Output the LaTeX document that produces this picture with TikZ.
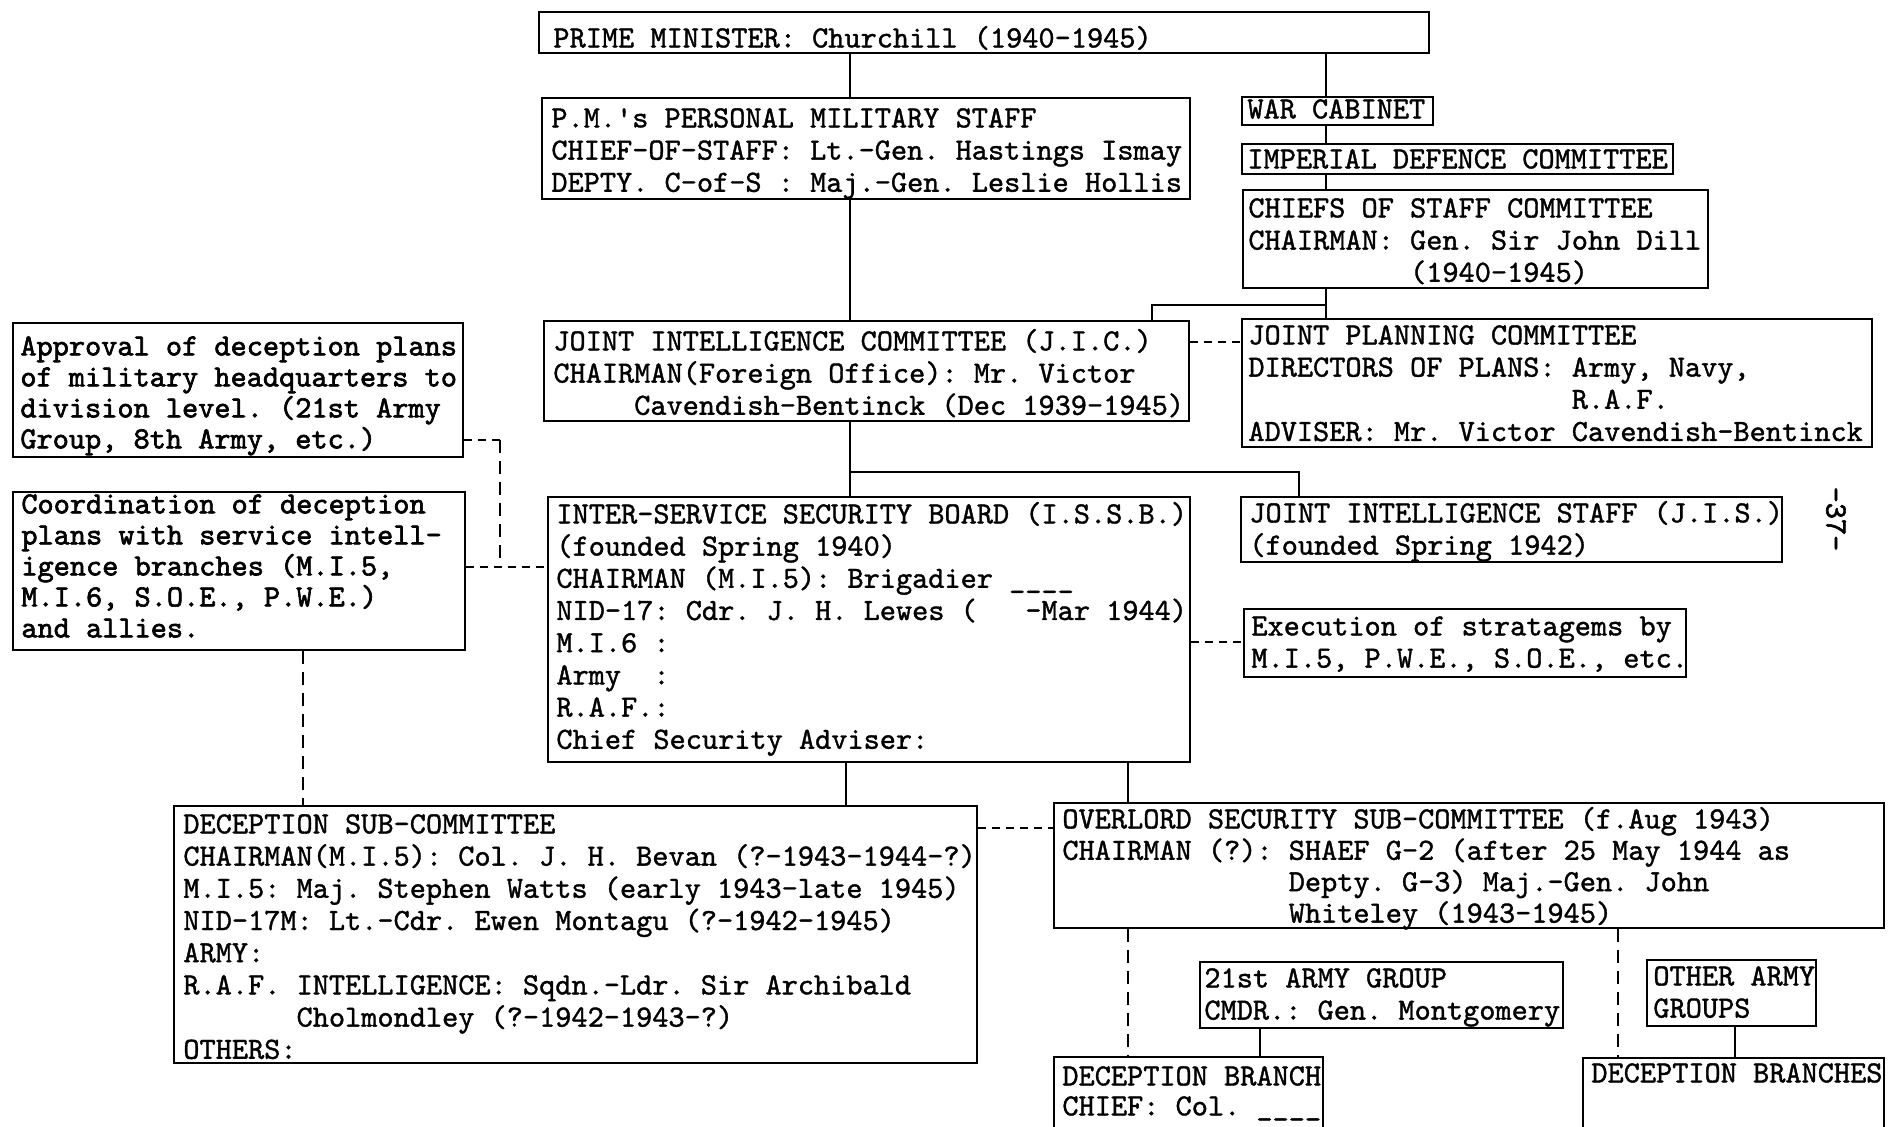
\documentclass[tikz,border=0pt]{standalone}
\usepackage{fontspec}
\usetikzlibrary{fit}
\setmonofont{lmmono10-regular.otf}[FakeBold=1.2]
\newfontfamily\pica{lmmono10-regular.otf}[FakeBold=2]
\newcommand\Tup{\rule{0pt}{13pt}}
\frenchspacing
\begin{document}
\begin{tikzpicture}[x=0.5pt,y=-0.5pt,
 box/.style={draw,line width=1.3pt,inner sep=0pt},
 ln/.style={line width=1.3pt},
 hd/.style={line width=1.3pt,dash pattern=on 4pt off 3pt},
 vd/.style={line width=1.3pt,dash pattern=on 6.5pt off 4pt},
 tx/.style={anchor=north west,inner sep=0pt,align=left,yshift=13pt,font=\ttfamily\fontsize{15.4pt}{16.1pt}\selectfont},
 px/.style={tx,font=\pica\fontsize{15.4pt}{15.5pt}\selectfont}]
\fill[white] (0,0) rectangle (1892,1127);
\useasboundingbox (0,0) rectangle (1892,1127);
\clip (0,0) rectangle (1892,1127);
% boxes
\node[box, fit={(539,12) (1429,53)}] (pm) {};
\node[box, fit={(542,98) (1190,199)}] (pms) {};
\node[box, fit={(1242,97) (1433,125)}] (war) {};
\node[box, fit={(1242,144) (1673,174)}] (idc) {};
\node[box, fit={(1243,190) (1708,288)}] (cos) {};
\node[box, fit={(544,321) (1189,421)}] (jic) {};
\node[box, fit={(1242,319) (1872,447)}] (jpc) {};
\node[box, fit={(13,323) (463,457)}] (appr) {};
\node[box, fit={(13,492) (465,650)}] (coord) {};
\node[box, fit={(548,497) (1190,762)}] (issb) {};
\node[box, fit={(1241,497) (1782,562)}] (jis) {};
\node[box, fit={(1244,609) (1686,677)}] (exec) {};
\node[box, fit={(174,806) (977,1063)}] (dsc) {};
\node[box, fit={(1054,803) (1884,928)}] (ovl) {};
\node[box, fit={(1200,962) (1563,1028)}] (ag) {};
\node[box, fit={(1647,960) (1816,1026)}] (oag) {};
\node[box, fit={(1054,1057) (1323,1160)}] (db) {};
\node[box, fit={(1583,1058) (1884,1160)}] (dbs) {};
% texts
\node[tx] (pm-t) at (553,47) {\Tup PRIME MINISTER: Churchill (1940-1945)};
\node[tx] (pms-t) at (551,127) {\Tup P.M.'s PERSONAL MILITARY STAFF\\CHIEF-OF-STAFF: Lt.-Gen. Hastings Ismay\\DEPTY. C-of-S : Maj.-Gen. Leslie Hollis};
\node[tx] (war-t) at (1247,118) {\Tup WAR CABINET};
\node[tx] (idc-t) at (1247,168) {\Tup IMPERIAL DEFENCE COMMITTEE};
\node[tx] (cos-t) at (1248,217) {\Tup CHIEFS OF STAFF COMMITTEE\\CHAIRMAN: Gen. Sir John Dill\\\phantom{0000000000}(1940-1945)};
\node[tx] (jic-t) at (553,350) {\Tup JOINT INTELLIGENCE COMMITTEE (J.I.C.)\\CHAIRMAN(Foreign Office): Mr. Victor\\\phantom{00000}Cavendish-Bentinck (Dec 1939-1945)};
\node[tx] (jpc-t) at (1248,344) {\Tup JOINT PLANNING COMMITTEE\\DIRECTORS OF PLANS: Army, Navy,\\\phantom{00000000000000000000}R.A.F.\\ADVISER: Mr. Victor Cavendish-Bentinck};
\node[px] (appr-t) at (20,355) {\Tup Approval of deception plans\\of military headquarters to\\division level. (21st Army\\Group, 8th Army, etc.)};
\node[px] (coord-t) at (21,513) {\Tup Coordination of deception\\plans with service intell-\\igence branches (M.I.5,\\M.I.6, S.O.E., P.W.E.)\\and allies.};
\node[tx] (issb-t) at (556,523) {\Tup INTER-SERVICE SECURITY BOARD (I.S.S.B.)\\(founded Spring 1940)\\CHAIRMAN (M.I.5): Brigadier \_\_\_\_\\NID-17: Cdr. J. H. Lewes (\phantom{000}-Mar 1944)\\M.I.6 :\\Army\ \ :\\R.A.F.:\\Chief Security Adviser:};
\node[tx] (jis-t) at (1249,522) {\Tup JOINT INTELLIGENCE STAFF (J.I.S.)\\(founded Spring 1942)};
\node[tx] (exec-t) at (1251,635) {\Tup Execution of stratagems by\\M.I.5, P.W.E., S.O.E., etc.};
\node[tx] (dsc-t) at (183,833) {\Tup DECEPTION SUB-COMMITTEE\\CHAIRMAN(M.I.5): Col. J. H. Bevan (?-1943-1944-?)\\M.I.5: Maj. Stephen Watts (early 1943-late 1945)\\NID-17M: Lt.-Cdr. Ewen Montagu (?-1942-1945)\\ARMY:\\R.A.F. INTELLIGENCE: Sqdn.-Ldr. Sir Archibald\\\phantom{0000000}Cholmondley (?-1942-1943-?)\\OTHERS:};
\node[tx, font=\ttfamily\fontsize{15.4pt}{15.7pt}\selectfont] (ovl-t) at (1062,828) {\Tup OVERLORD SECURITY SUB-COMMITTEE (f.Aug 1943)\\CHAIRMAN (?): SHAEF G-2 (after 25 May 1944 as\\\phantom{00000000000000}Depty. G-3) Maj.-Gen. John\\\phantom{00000000000000}Whiteley (1943-1945)};
\node[tx] (ag-t) at (1204,987) {\Tup 21st ARMY GROUP\\CMDR.: Gen. Montgomery};
\node[tx] (oag-t) at (1653,985) {\Tup OTHER ARMY\\GROUPS};
\node[tx, font=\ttfamily\fontsize{15.4pt}{15pt}\selectfont] (db-t) at (1062,1085) {\Tup DECEPTION BRANCH\\CHIEF: Col. \_\_\_\_};
\node[tx] (dbs-t) at (1591,1082) {\Tup DECEPTION BRANCHES};
\node[px, anchor=center, yshift=0pt, rotate=-90] (pg) at (1836,545) {-37-};
% connector coordinates
\coordinate (xa) at (850,0);
\coordinate (xb) at (1326,0);
\coordinate (xc) at (1152,0);
\coordinate (xd) at (1299,0);
\coordinate (xe) at (500,0);
\coordinate (xf) at (303,0);
\coordinate (xg) at (846,0);
\coordinate (xh) at (1128,0);
\coordinate (xi) at (1260,0);
\coordinate (xj) at (1618,0);
\coordinate (xk) at (1735,0);
\coordinate (ya) at (0,440);
\coordinate (yb) at (0,567);
\coordinate (yc) at (0,642);
\coordinate (yd) at (0,828);
\coordinate (ye) at (0,342);
\coordinate (jn) at (1326,305);
\coordinate (jm) at (850,472);
% solid connectors
\draw[ln] (pm.south -| xa) -- (pms.north -| xa);
\draw[ln] (pms.south -| xa) -- (jic.north -| xa);
\draw[ln] (jic.south -| xa) -- (issb.north -| xa);
\draw[ln] (pm.south -| xb) -- (war.north -| xb);
\draw[ln] (war.south -| xb) -- (idc.north -| xb);
\draw[ln] (idc.south -| xb) -- (cos.north -| xb);
\draw[ln] (cos.south -| xb) -- (jpc.north -| xb);
\draw[ln] (jic.north -| xc) |- (jn);
\draw[ln] (jm) -| (jis.north -| xd);
\draw[ln] (issb.south -| xg) -- (dsc.north -| xg);
\draw[ln] (issb.south -| xh) -- (ovl.north -| xh);
\draw[ln] (ag.south -| xi) -- (db.north -| xi);
\draw[ln] (oag.south -| xk) -- (dbs.north -| xk);
% dashed connectors
\draw[hd] (jic.east |- ye) -- (jpc.west |- ye);
\draw[hd] (appr.east |- ya) -- (xe |- ya);
\draw[vd] (xe |- ya) -- (xe |- yb);
\draw[hd] (coord.east |- yb) -- (issb.west |- yb);
\draw[vd] (coord.south -| xf) -- (dsc.north -| xf);
\draw[hd] (issb.east |- yc) -- (exec.west |- yc);
\draw[hd] (dsc.east |- yd) -- (ovl.west |- yd);
\draw[vd] (ovl.south -| xh) -- (db.north -| xh);
\draw[vd] (ovl.south -| xj) -- (dbs.north -| xj);
\end{tikzpicture}
\end{document}
